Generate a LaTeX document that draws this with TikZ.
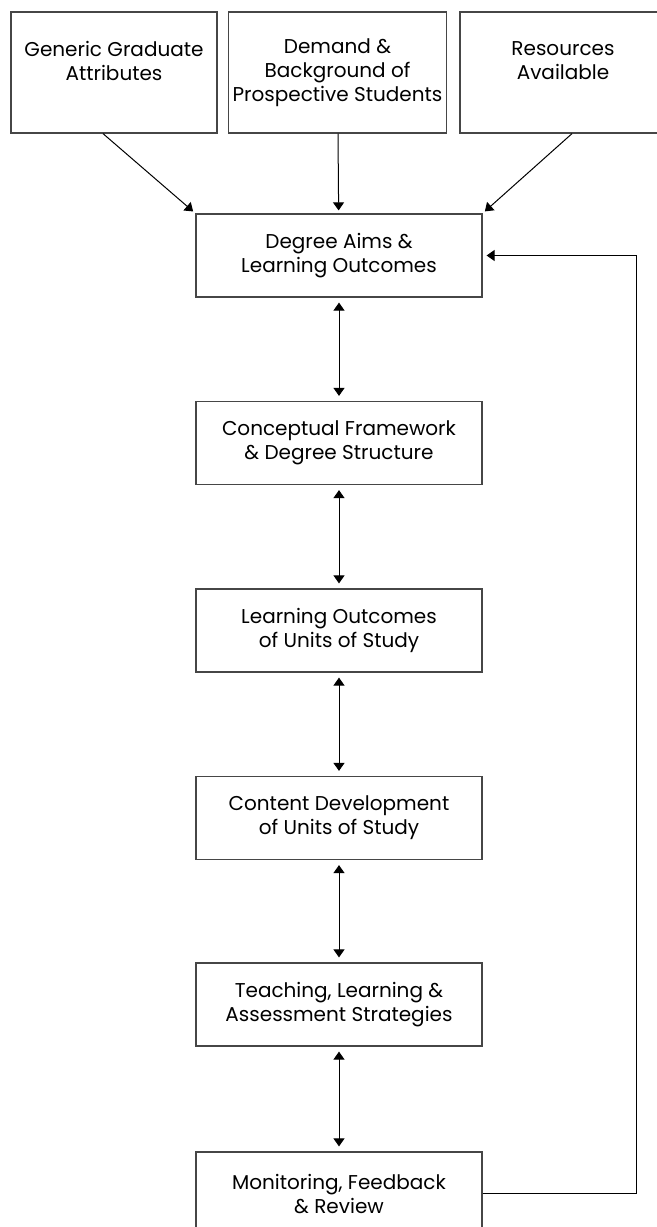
\documentclass[tikz,border=0pt]{standalone}
\usepackage{fontspec}
\setmainfont{Poppins}
\usepackage{xcolor}
\definecolor{rand}{RGB}{70,70,70}
\usetikzlibrary{arrows.meta}

\begin{document}
\begin{tikzpicture}[
    x=0.5pt, y=-0.5pt,
    box/.style={rectangle, draw=rand, line width=0.6pt, fill=white,
                minimum width=143pt, minimum height=41.5pt,
                font=\fontsize{10}{12}\selectfont, align=center, inner sep=2pt},
    topbox/.style={box, minimum width=103pt, minimum height=60.5pt},
    arr/.style={-{Triangle[width=5.5pt,length=4pt]}, line width=0.5pt,
                shorten >=1.5pt},
    darr/.style={{Triangle[width=5.5pt,length=4pt]}-{Triangle[width=5.5pt,length=4pt]},
                 line width=0.5pt, shorten >=2.5pt, shorten <=2.5pt}
  ]

  \useasboundingbox (0,0) rectangle (657,1227);
  \clip (0,0) rectangle (657,1227);

  % inputs
  \node[topbox] (gen) at (114, 72.5)   {Generic Graduate\\Attributes\\\mbox{}};
  \node[topbox] (dem) at (337.5, 72.5) {Demand \&\\Background of\\Prospective Students};
  \node[topbox] (res) at (563, 72.5)   {Resources\\Available\\\mbox{}};

  % main chain
  \node[box] (aims)    at (339, 255.5)  {Degree Aims \&\\Learning Outcomes};
  \node[box] (frame)   at (339, 443)    {Conceptual Framework\\\& Degree Structure};
  \node[box] (unitlo)  at (339, 630.5)  {Learning Outcomes\\of Units of Study};
  \node[box] (content) at (339, 818)    {Content Development\\of Units of Study};
  \node[box] (teach)   at (339, 1004.5) {Teaching, Learning \&\\Assessment Strategies};
  \node[box] (monitor) at (339, 1193.5) {Monitoring, Feedback\\\& Review};

  \draw[arr] ([xshift=-5.5pt]gen.south) -- (aims.north west);
  \draw[arr] (dem) -- (aims);
  \draw[arr] ([xshift=4.5pt]res.south) -- (aims.north east);

  \foreach \a/\b in {aims/frame, frame/unitlo, unitlo/content,
                     content/teach, teach/monitor}
    \draw[darr] (\a) -- (\b);

  % feedback loop
  \draw[arr, shorten >=2pt] (monitor.east) -- ++(154,0) |- (aims.east);

\end{tikzpicture}
\end{document}
